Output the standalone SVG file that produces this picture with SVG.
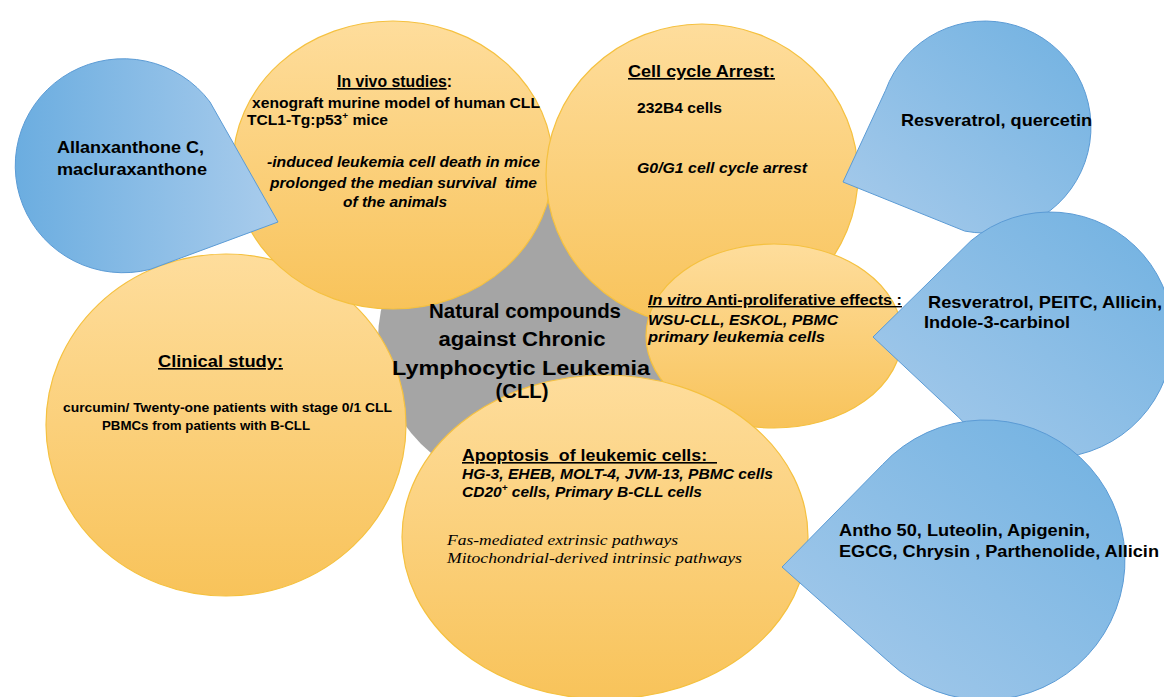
<svg xmlns="http://www.w3.org/2000/svg" width="1164" height="697" viewBox="0 0 1164 697">
<defs>
  <linearGradient id="gOrange" x1="0" y1="0" x2="0" y2="1">
    <stop offset="0" stop-color="#fedd9c"/>
    <stop offset="1" stop-color="#f8c35a"/>
  </linearGradient>
  <linearGradient id="gBlueLR" x1="0" y1="0" x2="1" y2="0">
    <stop offset="0" stop-color="#6badE0"/>
    <stop offset="1" stop-color="#a9ccec"/>
  </linearGradient>
  <linearGradient id="gBlueDiag" x1="1" y1="0" x2="0" y2="1">
    <stop offset="0" stop-color="#70b1e1"/>
    <stop offset="1" stop-color="#a8cbeb"/>
  </linearGradient>
  <style>
    .orange { fill: url(#gOrange); stroke: #f5c140; stroke-width: 1.2; }
    .blue1 { fill: url(#gBlueLR); stroke: #5b9bd5; stroke-width: 1; }
    .blue { fill: url(#gBlueDiag); stroke: #5b9bd5; stroke-width: 1; }
    .gray { fill: #a5a5a5; }
    text { font-family: "Liberation Sans", Arial, sans-serif; font-weight: bold; fill: #000; }
    .hdr { font-size: 16px; }
    .ul { text-decoration: underline; }
    .it { font-style: italic; }
    .serif { font-family: "Liberation Serif", "Times New Roman", serif; font-weight: normal; font-style: italic; font-size: 14.5px; }
    .body { font-size: 14px; }
    .small { font-size: 13px; }
    .center { font-size: 20px; }
    .center-lg { font-size: 21px; }
    .lab { font-size: 17px; }
    .lab-sm { font-size: 16px; }
    .sup { font-size: 9px; }
  </style>
</defs>

<g id="center-node">
  <circle class="gray" cx="525" cy="340" r="147"/>
</g>

<g id="clinical-study">
  <ellipse class="orange" cx="226" cy="425" rx="180" ry="171"/>
  <text class="hdr" x="158" y="367" textLength="125" lengthAdjust="spacingAndGlyphs"><tspan class="ul">Clinical study:</tspan></text>
  <text class="small" x="63" y="412" textLength="329" lengthAdjust="spacingAndGlyphs">curcumin/ Twenty-one patients with stage 0/1 CLL</text>
  <text class="small" x="102" y="430" textLength="208" lengthAdjust="spacingAndGlyphs">PBMCs from patients with B-CLL</text>
</g>

<g id="in-vivo-studies">
  <ellipse class="orange" cx="393" cy="165" rx="160" ry="144"/>
  <text class="hdr" x="337" y="87" textLength="115" lengthAdjust="spacingAndGlyphs"><tspan class="ul">In vivo studies</tspan>:</text>
  <text class="body" x="252" y="108" textLength="288" lengthAdjust="spacingAndGlyphs">xenograft murine model of human CLL</text>
  <text class="body" x="247" y="125" textLength="141" lengthAdjust="spacingAndGlyphs">TCL1-Tg:p53<tspan class="sup" dy="-6">+</tspan><tspan dy="6"> mice</tspan></text>
  <text class="body it" x="267" y="167" textLength="273" lengthAdjust="spacingAndGlyphs">-induced leukemia cell death in mice</text>
  <text class="body it" x="270" y="188" textLength="267" lengthAdjust="spacingAndGlyphs" xml:space="preserve">prolonged the median survival  time</text>
  <text class="body it" x="343" y="207" textLength="104" lengthAdjust="spacingAndGlyphs">of the animals</text>
</g>

<g id="allanxanthone">
  <path class="blue1" d="M 278 222 L 210 102 A 108 107 0 1 0 150 269.4 Z"/>
  <text class="lab" x="57" y="153" textLength="147" lengthAdjust="spacingAndGlyphs">Allanxanthone C,</text>
  <text class="lab" x="57" y="175" textLength="150" lengthAdjust="spacingAndGlyphs">macluraxanthone</text>
</g>

<g id="cell-cycle-arrest">
  <ellipse class="orange" cx="702" cy="175" rx="156" ry="151"/>
  <text class="hdr" x="628" y="77" textLength="147" lengthAdjust="spacingAndGlyphs"><tspan class="ul">Cell cycle Arrest:</tspan></text>
  <text class="body" x="637" y="113" textLength="85" lengthAdjust="spacingAndGlyphs">232B4 cells</text>
  <text class="body it" x="637" y="173" textLength="170" lengthAdjust="spacingAndGlyphs">G0/G1 cell cycle arrest</text>
</g>

<g id="resveratrol-quercetin">
  <path class="blue" d="M 843 182 L 885.4 90.7 A 106 106 0 1 1 964.8 231.1 Z"/>
  <text class="lab" x="901" y="126" textLength="191" lengthAdjust="spacingAndGlyphs">Resveratrol, quercetin</text>
</g>

<g id="in-vitro">
  <ellipse class="orange" cx="774" cy="336" rx="128" ry="92"/>
  <text class="body ul" x="648" y="305" textLength="254" lengthAdjust="spacingAndGlyphs" xml:space="preserve"><tspan class="it">In vitro</tspan> Anti-proliferative effects :</text>
  <text class="body it" x="648" y="325" textLength="190" lengthAdjust="spacingAndGlyphs">WSU-CLL, ESKOL, PBMC</text>
  <text class="body it" x="648" y="342" textLength="177" lengthAdjust="spacingAndGlyphs">primary leukemia cells</text>
</g>

<g id="resveratrol-peitc">
  <path class="blue" d="M 873 337 L 970.9 240.8 A 123 123 0 1 1 958.6 417.3 Z"/>
  <text class="lab" x="928" y="308" textLength="234" lengthAdjust="spacingAndGlyphs">Resveratrol, PEITC, Allicin,</text>
  <text class="lab" x="924" y="328" textLength="146" lengthAdjust="spacingAndGlyphs">Indole-3-carbinol</text>
</g>

<g id="apoptosis">
  <ellipse class="orange" cx="605" cy="537" rx="203" ry="162"/>
  <text class="hdr ul" x="462" y="461" textLength="255" lengthAdjust="spacingAndGlyphs" xml:space="preserve">Apoptosis  of leukemic cells:  </text>
  <text class="body it" x="462" y="479" textLength="311" lengthAdjust="spacingAndGlyphs">HG-3, EHEB, MOLT-4, JVM-13, PBMC cells</text>
  <text class="body it" x="462" y="497" textLength="240" lengthAdjust="spacingAndGlyphs">CD20<tspan class="sup" dy="-6">+</tspan><tspan dy="6"> cells, Primary B-CLL cells</tspan></text>
  <text class="serif" x="447" y="545" textLength="231" lengthAdjust="spacingAndGlyphs">Fas-mediated extrinsic pathways</text>
  <text class="serif" x="447" y="563" textLength="295" lengthAdjust="spacingAndGlyphs">Mitochondrial-derived intrinsic pathways</text>
</g>

<g id="antho-50">
  <path class="blue" d="M 782 567 L 882.6 464.5 A 140 140 0 1 1 889.5 662.4 Z"/>
  <text class="lab-sm" x="839" y="536" textLength="251" lengthAdjust="spacingAndGlyphs">Antho 50, Luteolin, Apigenin,</text>
  <text class="lab-sm" x="839" y="557" textLength="320" lengthAdjust="spacingAndGlyphs">EGCG, Chrysin , Parthenolide, Allicin</text>
</g>

<g id="center-label">
  <text class="center" x="525" y="318" text-anchor="middle" textLength="192" lengthAdjust="spacingAndGlyphs">Natural compounds</text>
  <text class="center" x="522" y="346" text-anchor="middle" textLength="167" lengthAdjust="spacingAndGlyphs">against Chronic</text>
  <text class="center-lg" x="521" y="375" text-anchor="middle" textLength="258" lengthAdjust="spacingAndGlyphs">Lymphocytic Leukemia</text>
  <text class="center-lg" x="522" y="398" text-anchor="middle" textLength="53" lengthAdjust="spacingAndGlyphs">(CLL)</text>
</g>

<g id="connectors"/>
</svg>
